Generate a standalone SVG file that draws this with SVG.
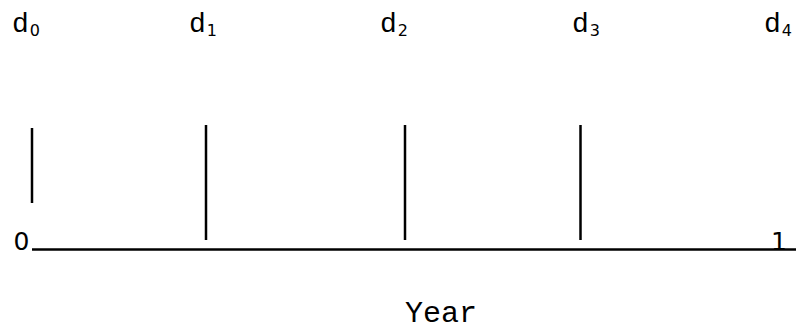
<svg xmlns="http://www.w3.org/2000/svg" width="796" height="331" viewBox="0 0 796 331">
<style>
.lbl{font-family:"Courier New","Liberation Mono",monospace;font-size:28px;fill:#000}
.sub{font-family:"DejaVu Sans",sans-serif;font-size:16px;fill:#000}
.num{font-family:"DejaVu Sans",sans-serif;font-size:25px;fill:#000}
.ax{font-family:"Courier New","Liberation Mono",monospace;font-size:30px;fill:#000}
.tick{stroke:#000;stroke-width:2.5;fill:none}
</style>
<rect width="796" height="331" fill="#fff"/>
<g id="axis">
<line class="tick" x1="32" y1="249.5" x2="796" y2="249.5"/>
<text class="num" x="13.5" y="250">0</text>
<text class="num" x="771" y="250">1</text>
<text class="ax" x="405" y="322">Year</text>
</g>
<g id="d0"><text class="lbl" x="12" y="32">d<tspan class="sub" dx="1" dy="4">0</tspan></text></g>
<g id="d1"><text class="lbl" x="189" y="32">d<tspan class="sub" dx="1" dy="4">1</tspan></text></g>
<g id="d2"><text class="lbl" x="380" y="32">d<tspan class="sub" dx="1" dy="4">2</tspan></text></g>
<g id="d3"><text class="lbl" x="572" y="32">d<tspan class="sub" dx="1" dy="4">3</tspan></text></g>
<g id="d4"><text class="lbl" x="764" y="32">d<tspan class="sub" dx="1" dy="4">4</tspan></text></g>
<g id="connectors">
<line class="tick" x1="32" y1="128" x2="32" y2="203"/>
<line class="tick" x1="206" y1="125" x2="206" y2="240"/>
<line class="tick" x1="405" y1="125" x2="405" y2="240"/>
<line class="tick" x1="580.5" y1="125" x2="580.5" y2="240"/>
</g>
</svg>
